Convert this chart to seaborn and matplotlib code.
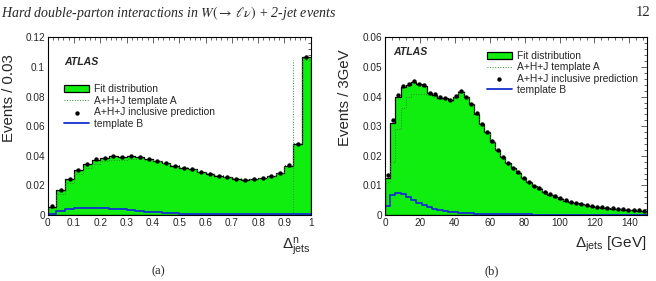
import numpy as np
import pandas as pd
import matplotlib
matplotlib.use("Agg")
import matplotlib.pyplot as plt
import seaborn as sns
from matplotlib.ticker import MultipleLocator, FuncFormatter

sns.set_style("white")
plt.rcParams["font.family"] = ["Liberation Sans", "DejaVu Sans"]
plt.rcParams["mathtext.fontset"] = "custom"
plt.rcParams["mathtext.rm"] = "Liberation Sans"
plt.rcParams["mathtext.it"] = "Liberation Sans:italic"

# ---- panel (a): normalised Delta_jets^n, 30 bins in [0, 1]
edges_a = np.linspace(0, 1, 31)
fit_a = [0.0056, 0.0168, 0.0243, 0.0303, 0.0343, 0.0373, 0.0387, 0.0397, 0.0392, 0.0397,
         0.0392, 0.0376, 0.0368, 0.0348, 0.0333, 0.0320, 0.0310, 0.0288, 0.0280, 0.0266,
         0.0256, 0.0246, 0.0238, 0.0240, 0.0248, 0.0262, 0.0282, 0.0333, 0.0480, 0.1065]
pred_a = [0.0058, 0.0170, 0.0245, 0.0305, 0.0345, 0.0375, 0.0388, 0.0398, 0.0392, 0.0398,
          0.0392, 0.0375, 0.0368, 0.0348, 0.0333, 0.0320, 0.0310, 0.0288, 0.0280, 0.0265,
          0.0255, 0.0245, 0.0238, 0.0240, 0.0248, 0.0262, 0.0282, 0.0335, 0.0482, 0.1070]
tmplA_a = [0.0050, 0.0140, 0.0215, 0.0275, 0.0315, 0.0345, 0.0362, 0.0372, 0.0372, 0.0380,
           0.0378, 0.0370, 0.0365, 0.0348, 0.0335, 0.0322, 0.0313, 0.0290, 0.0283, 0.0268,
           0.0258, 0.0248, 0.0242, 0.0244, 0.0252, 0.0266, 0.0286, 0.0340, 0.0487, 0.1050]
tmplB_a = [0.0010, 0.0029, 0.0040, 0.0045, 0.0048, 0.0048, 0.0046, 0.0043, 0.0038, 0.0033,
           0.0028, 0.0023, 0.0018, 0.0014, 0.0011, 0.0008, 0.0006, 0.0005, 0.0004, 0.0004,
           0.0004, 0.0004, 0.0004, 0.0004, 0.0004, 0.0004, 0.0004, 0.0004, 0.0004, 0.0004]

# ---- panel (b): Delta_jets in GeV, 50 bins of 3 GeV
edges_b = np.arange(0, 151, 3)
fit_b = [0.0125, 0.0310, 0.0400, 0.0434, 0.0440, 0.0451, 0.0442, 0.0437, 0.0412, 0.0407,
         0.0396, 0.0395, 0.0387, 0.0400, 0.0417, 0.0398, 0.0375, 0.0342, 0.0308, 0.0280,
         0.0248, 0.0220, 0.0196, 0.0175, 0.0159, 0.0143, 0.0125, 0.0111, 0.0098, 0.0089,
         0.0078, 0.0069, 0.0062, 0.0055, 0.0048, 0.0044, 0.0041, 0.0036, 0.0034, 0.0030,
         0.0027, 0.0025, 0.0024, 0.0021, 0.0020, 0.0018, 0.0017, 0.0016, 0.0015, 0.0013]
pred_b = [0.0135, 0.0320, 0.0404, 0.0436, 0.0442, 0.0453, 0.0443, 0.0438, 0.0413, 0.0408,
          0.0397, 0.0396, 0.0388, 0.0401, 0.0418, 0.0399, 0.0376, 0.0343, 0.0309, 0.0281,
          0.0249, 0.0221, 0.0197, 0.0176, 0.0160, 0.0144, 0.0126, 0.0112, 0.0099, 0.0090,
          0.0079, 0.0070, 0.0063, 0.0056, 0.0049, 0.0045, 0.0042, 0.0037, 0.0035, 0.0031,
          0.0028, 0.0026, 0.0025, 0.0022, 0.0021, 0.0019, 0.0018, 0.0017, 0.0016, 0.0014]
tmplA_b = [0.0110, 0.0180, 0.0290, 0.0360, 0.0400, 0.0410, 0.0410, 0.0410, 0.0405, 0.0400,
           0.0392, 0.0392, 0.0386, 0.0400, 0.0418, 0.0399, 0.0376, 0.0343, 0.0309, 0.0281,
           0.0249, 0.0221, 0.0197, 0.0176, 0.0160, 0.0144, 0.0126, 0.0112, 0.0099, 0.0090,
           0.0079, 0.0070, 0.0063, 0.0056, 0.0049, 0.0045, 0.0042, 0.0037, 0.0035, 0.0031,
           0.0028, 0.0026, 0.0025, 0.0022, 0.0021, 0.0019, 0.0018, 0.0017, 0.0016, 0.0014]
tmplB_b = [0.0030, 0.0068, 0.0075, 0.0072, 0.0060, 0.0052, 0.0042, 0.0033, 0.0027, 0.0021,
           0.0017, 0.0013, 0.0011, 0.0009, 0.0008, 0.0007, 0.0006, 0.0005, 0.0004, 0.0004,
           0.0003, 0.0003, 0.0003, 0.0002, 0.0002, 0.0002, 0.0002, 0.0002, 0.0001, 0.0001,
           0.0001, 0.0001, 0.0001, 0.0001, 0.0001, 0.0001, 0.0001, 0.0001, 0.0001, 0.0001,
           0.0001, 0.0001, 0.0001, 0.0001, 0.0001, 0.0001, 0.0001, 0.0001, 0.0001, 0.0001]

GREEN = "#10ee10"
BLUE = "#1530d0"
DOT_GREEN = "#2a8a2a"
fmt = FuncFormatter(lambda v, p: "%g" % round(v, 4))

fig = plt.figure(figsize=(6.56, 2.81), dpi=100)
ax_a = fig.add_axes([0.0727, 0.2349, 0.401, 0.632])
ax_b = fig.add_axes([0.5869, 0.2349, 0.399, 0.632])


def draw_panel(ax, edges, fit, pred, tmplA, tmplB):
    df = pd.DataFrame({"x": 0.5 * (edges[:-1] + edges[1:]), "fit": fit,
                       "pred": pred, "tA": tmplA, "tB": tmplB})
    sns.histplot(data=df, x="x", weights="fit", bins=list(edges), element="step", fill=True,
                 color=GREEN, edgecolor="black", linewidth=0.9, alpha=1, ax=ax,
                 label="Fit distribution")
    sns.histplot(data=df, x="x", weights="tA", bins=list(edges), element="step", fill=False,
                 color=DOT_GREEN, linestyle=":", linewidth=0.7, ax=ax,
                 label="A+H+J template A")
    sns.scatterplot(data=df, x="x", y="pred", color="black", s=10, linewidth=0, ax=ax,
                    label="A+H+J inclusive prediction", zorder=5)
    sns.histplot(data=df, x="x", weights="tB", bins=list(edges), element="step", fill=False,
                 color=BLUE, linewidth=1.3, ax=ax, label="template B")
    ax.tick_params(direction="in", which="both", top=True, right=True,
                   labelsize=7.2, width=0.5, pad=2)
    ax.tick_params(which="major", length=4)
    ax.tick_params(which="minor", length=2)
    ax.xaxis.set_major_formatter(fmt)
    ax.yaxis.set_major_formatter(fmt)
    for s in ax.spines.values():
        s.set_linewidth(0.8)
        s.set_color("black")


legend_kw = dict(loc="upper left", frameon=False, fontsize=7.4, handlelength=2.4,
                 handleheight=0.7, handletextpad=0.5, labelspacing=0.14,
                 borderaxespad=0, borderpad=0)

draw_panel(ax_a, edges_a, fit_a, pred_a, tmplA_a, tmplB_a)
# template A outline at the lower edge of the second-to-last bin
ax_a.vlines(edges_a[-3], 0, tmplA_a[-1], colors=DOT_GREEN, linestyles=":", linewidth=0.7)
ax_a.set_xlim(0, 1)
ax_a.set_ylim(0, 0.12)
ax_a.xaxis.set_major_locator(MultipleLocator(0.1))
ax_a.xaxis.set_minor_locator(MultipleLocator(0.02))
ax_a.yaxis.set_major_locator(MultipleLocator(0.02))
ax_a.yaxis.set_minor_locator(MultipleLocator(0.004))
ax_a.set_ylabel("Events / 0.03", fontsize=10.8)
ax_a.yaxis.set_label_coords(-0.12, 0.66)
ax_a.set_xlabel(r"$\Delta^{\mathrm{n}}_{\mathrm{jets}}$", fontsize=11, loc="right", labelpad=5)
ax_a.text(0.062, 0.86, "ATLAS", transform=ax_a.transAxes, fontsize=7.6,
          fontweight="bold", fontstyle="italic", va="center")
ax_a.legend(bbox_to_anchor=(0.063, 0.735), **legend_kw)

draw_panel(ax_b, edges_b, fit_b, pred_b, tmplA_b, tmplB_b)
ax_b.set_xlim(0, 150)
ax_b.set_ylim(0, 0.06)
ax_b.xaxis.set_major_locator(MultipleLocator(20))
ax_b.xaxis.set_minor_locator(MultipleLocator(4))
ax_b.yaxis.set_major_locator(MultipleLocator(0.01))
ax_b.yaxis.set_minor_locator(MultipleLocator(0.002))
ax_b.set_ylabel("Events / 3GeV", fontsize=10.8)
ax_b.yaxis.set_label_coords(-0.126, 0.66)
ax_b.set_xlabel(r"$\Delta_{\mathrm{jets}}$ [GeV]", fontsize=11, loc="right", labelpad=5)
ax_b.text(0.03, 0.92, "ATLAS", transform=ax_b.transAxes, fontsize=7.6,
          fontweight="bold", fontstyle="italic", va="center")
ax_b.legend(bbox_to_anchor=(0.39, 0.925), **legend_kw)

# page header and sub-figure captions
fig.text(0.002, 0.955, r"Hard double-parton interactions in $W(\rightarrow\,\ell\nu)$ + 2-jet events",
         fontsize=10, family=["Liberation Serif", "DejaVu Serif"], fontstyle="italic",
         va="center", ha="left", math_fontfamily="stix")
fig.text(0.992, 0.955, "12", fontsize=10.5, family=["Liberation Serif", "DejaVu Serif"],
         va="center", ha="right")
fig.text(0.241, 0.035, "(a)", fontsize=9, family=["Liberation Serif", "DejaVu Serif"],
         ha="center", va="center")
fig.text(0.75, 0.035, "(b)", fontsize=9, family=["Liberation Serif", "DejaVu Serif"],
         ha="center", va="center")

fig.savefig("out.png", dpi=100)
